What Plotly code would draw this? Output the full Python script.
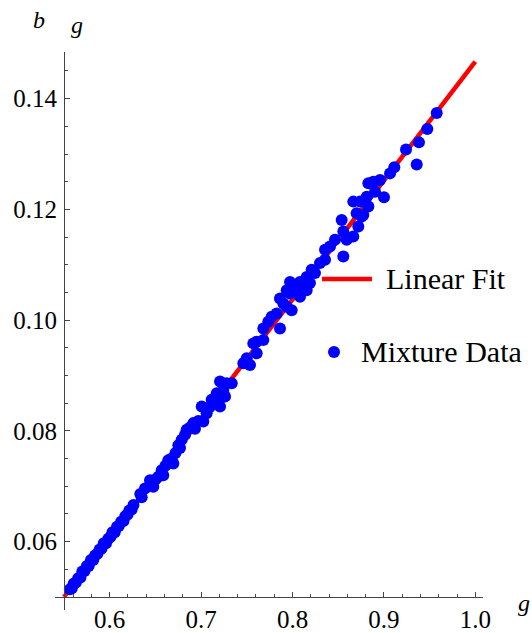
import plotly.graph_objects as go

# ---- data ----
mix_x = [0.5565, 0.5585, 0.5605, 0.5630, 0.5655, 0.5680, 0.5700, 0.5725, 0.5750, 0.5770,
         0.5795, 0.5820, 0.5840, 0.5865, 0.5890, 0.5910, 0.5935, 0.5960, 0.5985, 0.6010,
         0.6030, 0.6055, 0.6080, 0.6100, 0.6125, 0.6150, 0.6170, 0.6195, 0.6215, 0.6240,
         0.6260, 0.6335, 0.6350, 0.6386, 0.6441, 0.6477, 0.6500, 0.6532, 0.6569, 0.6586,
         0.6610, 0.6641, 0.6678, 0.6696, 0.6720, 0.6751, 0.6769, 0.6788, 0.6824, 0.6842,
         0.6880, 0.6915, 0.6933, 0.6970, 0.7007, 0.7024, 0.7061, 0.7090, 0.7116, 0.7171,
         0.7171, 0.7207, 0.7207, 0.7243, 0.7262, 0.7280, 0.7335, 0.7462, 0.7499, 0.7535,
         0.7571, 0.7608, 0.7608, 0.7681, 0.7681, 0.7735, 0.7772, 0.7827, 0.7863, 0.7863,
         0.7900, 0.7937, 0.7937, 0.7973, 0.7973, 0.7991, 0.8027, 0.8027, 0.8082, 0.8082,
         0.8118, 0.8155, 0.8155, 0.8191, 0.8210, 0.8246, 0.8301, 0.8356, 0.8356, 0.8410,
         0.8465, 0.8538, 0.8556, 0.8556, 0.8593, 0.8665, 0.8665, 0.8702, 0.8720, 0.8739,
         0.8757, 0.8775, 0.8812, 0.8830, 0.8830, 0.8884, 0.8903, 0.8957, 0.9001, 0.9067,
         0.9114, 0.9242, 0.9359, 0.9384, 0.9475, 0.9578]
mix_y = [0.0514, 0.0516, 0.0524, 0.0526, 0.0534, 0.0535, 0.0546, 0.0547, 0.0556, 0.0556,
         0.0567, 0.0567, 0.0575, 0.0578, 0.0586, 0.0587, 0.0597, 0.0597, 0.0605, 0.0609,
         0.0617, 0.0617, 0.0627, 0.0628, 0.0636, 0.0637, 0.0646, 0.0649, 0.0656, 0.0658,
         0.0666, 0.0686, 0.0680, 0.0696, 0.0711, 0.0699, 0.0712, 0.0717, 0.0729, 0.0720,
         0.0737, 0.0747, 0.0750, 0.0741, 0.0760, 0.0774, 0.0769, 0.0784, 0.0793, 0.0802,
         0.0806, 0.0814, 0.0804, 0.0818, 0.0844, 0.0817, 0.0832, 0.0842, 0.0856, 0.0862,
         0.0868, 0.0844, 0.0889, 0.0874, 0.0862, 0.0886, 0.0886, 0.0922, 0.0931, 0.0919,
         0.0958, 0.0940, 0.0961, 0.0964, 0.0985, 0.0997, 0.1006, 0.1012, 0.0985, 0.1039,
         0.1030, 0.1024, 0.1054, 0.1048, 0.1069, 0.1018, 0.1051, 0.1060, 0.1042, 0.1069,
         0.1060, 0.1054, 0.1078, 0.1067, 0.1091, 0.1085, 0.1103, 0.1109, 0.1127, 0.1133,
         0.1145, 0.1181, 0.1115, 0.1160, 0.1145, 0.1151, 0.1214, 0.1193, 0.1169, 0.1214,
         0.1187, 0.1190, 0.1223, 0.1205, 0.1247, 0.1250, 0.1232, 0.1253, 0.1222, 0.1265,
         0.1276, 0.1308, 0.1281, 0.1321, 0.1345, 0.1374]

fit_x = [0.55, 1.0]
fit_y = [0.0500, 0.1467]

x_ticks = [0.6, 0.7, 0.8, 0.9, 1.0]
x_labels = ["0.6", "0.7", "0.8", "0.9", "1.0"]
y_ticks = [0.06, 0.08, 0.10, 0.12, 0.14]
y_labels = ["0.06", "0.08", "0.10", "0.12", "0.14"]

RED = "rgb(255,0,0)"
BLUE = "rgb(0,0,255)"
FONT = "Liberation Serif, Times New Roman, serif"
AX = "#444444"

fig = go.Figure()
fig.add_trace(go.Scatter(x=fit_x, y=fit_y, mode="lines",
                         line=dict(color=RED, width=4.5), showlegend=False,
                         cliponaxis=False))
fig.add_trace(go.Scatter(x=mix_x, y=mix_y, mode="markers",
                         marker=dict(color=BLUE, size=12, line=dict(width=0)),
                         showlegend=False))

W, H = 532, 633
ml, mr, mt, mb = 55, 49, 52, 23
pw, ph = W - ml - mr, H - mt - mb

fig.update_layout(
    width=W, height=H,
    margin=dict(l=ml, r=mr, t=mt, b=mb, autoexpand=False),
    paper_bgcolor="white", plot_bgcolor="white",
    font=dict(family=FONT, size=25, color="black"),
    xaxis=dict(range=[0.54015, 1.00843], anchor="free", position=13 / ph,
               automargin=False,
               showgrid=False, zeroline=False, showline=True, linecolor=AX, linewidth=1,
               tickvals=x_ticks, ticktext=x_labels, ticks="inside", ticklen=5,
               tickcolor=AX, tickwidth=1,
               minor=dict(tick0=0.5, dtick=0.02, ticks="inside", ticklen=3,
                          tickcolor=AX, tickwidth=1, showgrid=False),
               tickfont=dict(family=FONT, size=25, color="black")),
    yaxis=dict(range=[0.047652, 0.148420], anchor="free", position=9 / pw,
               automargin=False,
               showgrid=False, zeroline=False, showline=True, linecolor=AX, linewidth=1,
               tickvals=y_ticks, ticktext=y_labels, ticks="inside", ticklen=5,
               tickcolor=AX, tickwidth=1, ticklabelstandoff=2,
               minor=dict(tick0=0.05, dtick=0.005, ticks="inside", ticklen=3,
                          tickcolor=AX, tickwidth=1, showgrid=False),
               tickfont=dict(family=FONT, size=25, color="black")),
)

def px2paper(px, py):
    return (px - ml) / pw, (H - mb - py) / ph

# legend
lx0, ly = px2paper(322, 279)
lx1, _ = px2paper(372, 279)
fig.add_shape(type="line", xref="paper", yref="paper", x0=lx0, x1=lx1, y0=ly, y1=ly,
              line=dict(color=RED, width=4.5))
tx, ty = px2paper(384, 278)
fig.add_annotation(xref="paper", yref="paper", x=tx, y=ty, text="Linear Fit",
                   showarrow=False, xanchor="left", yanchor="middle",
                   font=dict(family=FONT, size=30, color="black"))
dx, dy = px2paper(334, 352)
fig.add_shape(type="circle", xref="paper", yref="paper", xsizemode="pixel", ysizemode="pixel",
              xanchor=dx, yanchor=dy, x0=-6, x1=6, y0=-6, y1=6,
              fillcolor=BLUE, line=dict(width=0))
tx2, ty2 = px2paper(359, 351)
fig.add_annotation(xref="paper", yref="paper", x=tx2, y=ty2, text="Mixture Data",
                   showarrow=False, xanchor="left", yanchor="middle",
                   font=dict(family=FONT, size=30, color="black"))

# axis labels
for txt, (px, py) in [("b", (39, 20)), ("g", (77, 25)), ("g", (524, 603))]:
    ax, ay = px2paper(px, py)
    fig.add_annotation(xref="paper", yref="paper", x=ax, y=ay, text="<i>%s</i>" % txt,
                       showarrow=False, xanchor="center", yanchor="middle",
                       font=dict(family=FONT, size=24, color="black"))

fig.write_html("out.html")
